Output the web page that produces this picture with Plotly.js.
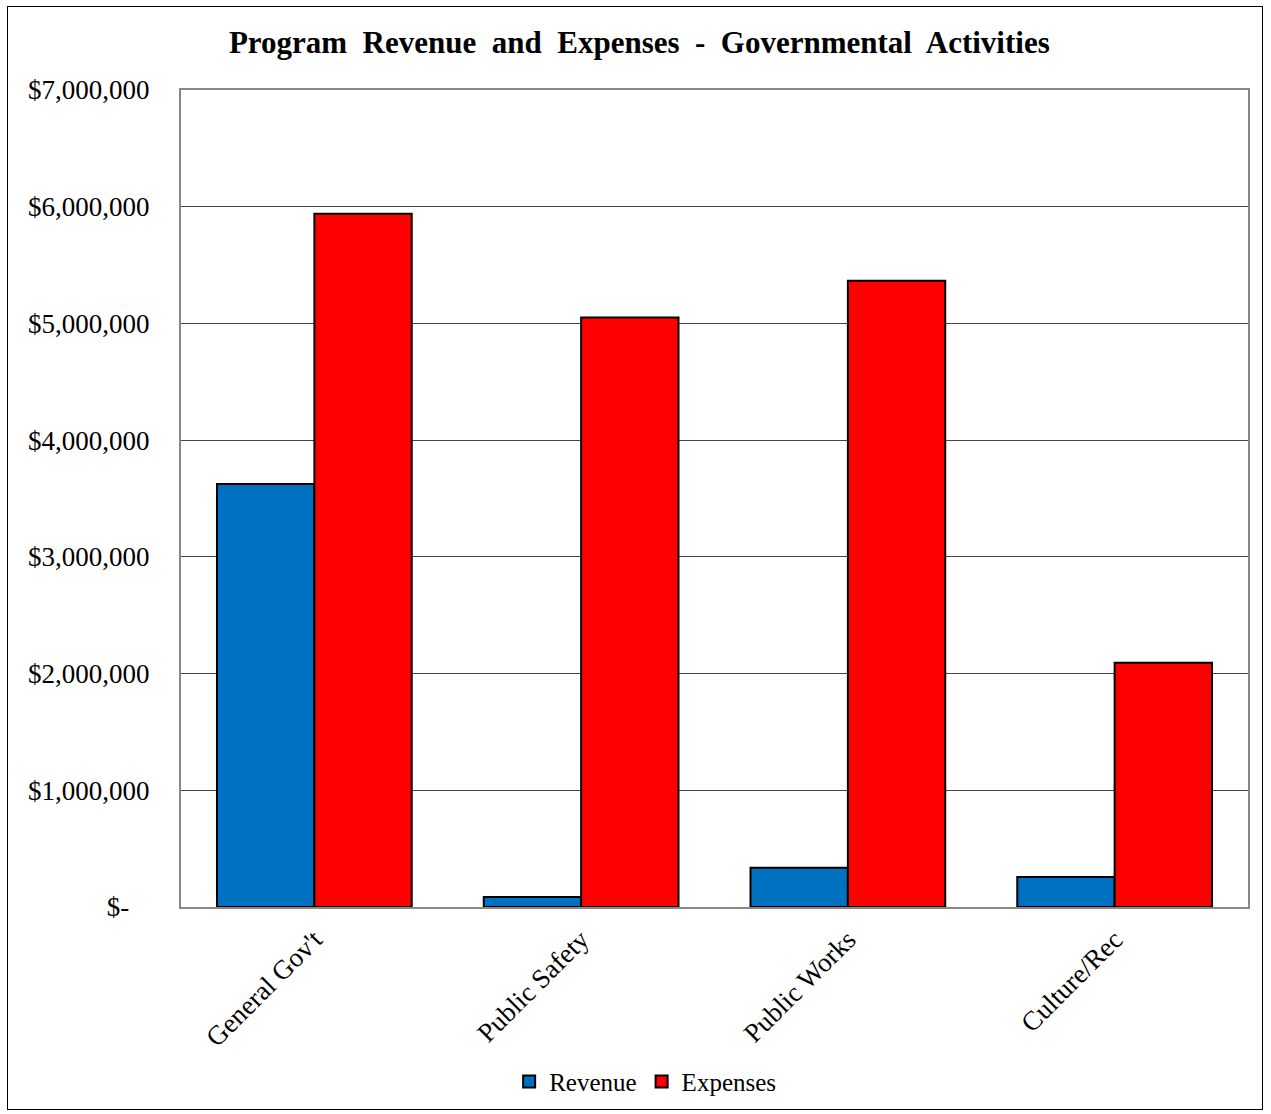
<!DOCTYPE html>
<html>
<head>
<meta charset="utf-8">
<script src="https://cdn.plot.ly/plotly-3.0.1.min.js"></script>
<style>
html,body{margin:0;padding:0;background:#fff;}
#wrap{position:relative;width:1271px;height:1114px;}
#chart{width:1271px;height:1114px;}
#frame{position:absolute;left:7px;top:6px;width:1256px;height:1104px;border:1px solid #000;pointer-events:none;box-sizing:border-box;}
</style>
</head>
<body>
<div id="wrap"><div id="chart"></div><div id="frame"></div></div>
<script>
const categories = ["General Gov't", "Public Safety", "Public Works", "Culture/Rec"];
const revenue = [3625000, 85000, 337000, 257000];
const expenses = [5940000, 5050000, 5365000, 2093000];
const tickValues = [0, 1000000, 2000000, 3000000, 4000000, 5000000, 6000000, 7000000];
const tickLabels = ["$-\u00a0\u00a0\u00a0", "$1,000,000", "$2,000,000", "$3,000,000", "$4,000,000", "$5,000,000", "$6,000,000", "$7,000,000"];

const font = "Liberation Serif, Times New Roman, serif";
const traces = [
  {type:"bar", name:"Revenue", x:categories, y:revenue,
   marker:{color:"#0070C0", line:{color:"#000", width:2}}},
  {type:"bar", name:"Expenses", x:categories, y:expenses,
   marker:{color:"#FF0000", line:{color:"#000", width:2}}}
];
const layout = {
  width:1271, height:1114,
  margin:{l:181, r:23, t:90, b:207, autoexpand:false},
  paper_bgcolor:"#fff", plot_bgcolor:"#fff",
  font:{family:font, color:"#000"},
  title:{text:"<b>Program  Revenue  and  Expenses  -  Governmental  Activities</b>", x:0.503, xanchor:"center", y:0.962, yanchor:"middle", font:{size:31, family:font}},
  barmode:"group", bargap:0.27, bargroupgap:0,
  showlegend:true,
  legend:{orientation:"h", x:0.435, xanchor:"center", y:-0.214, yanchor:"middle", font:{size:25, family:font}, itemwidth:30, tracegroupgap:0},
  xaxis:{type:"category", automargin:false, tickangle:-45, tickfont:{size:27, family:font}, showline:true, linecolor:"#888", linewidth:2, mirror:true, ticks:"", showgrid:false, ticklabelstandoff:4},
  yaxis:{automargin:false, range:[0,7000000], tickvals:tickValues, ticktext:tickLabels, tickfont:{size:27, family:font}, showline:true, linecolor:"#888", linewidth:2, mirror:true, showgrid:true, gridcolor:"#444", gridwidth:1, ticks:"", ticklabelstandoff:24, zeroline:false}
};
Plotly.newPlot("chart", traces, layout, {displayModeBar:false, staticPlot:true});
</script>
</body>
</html>
